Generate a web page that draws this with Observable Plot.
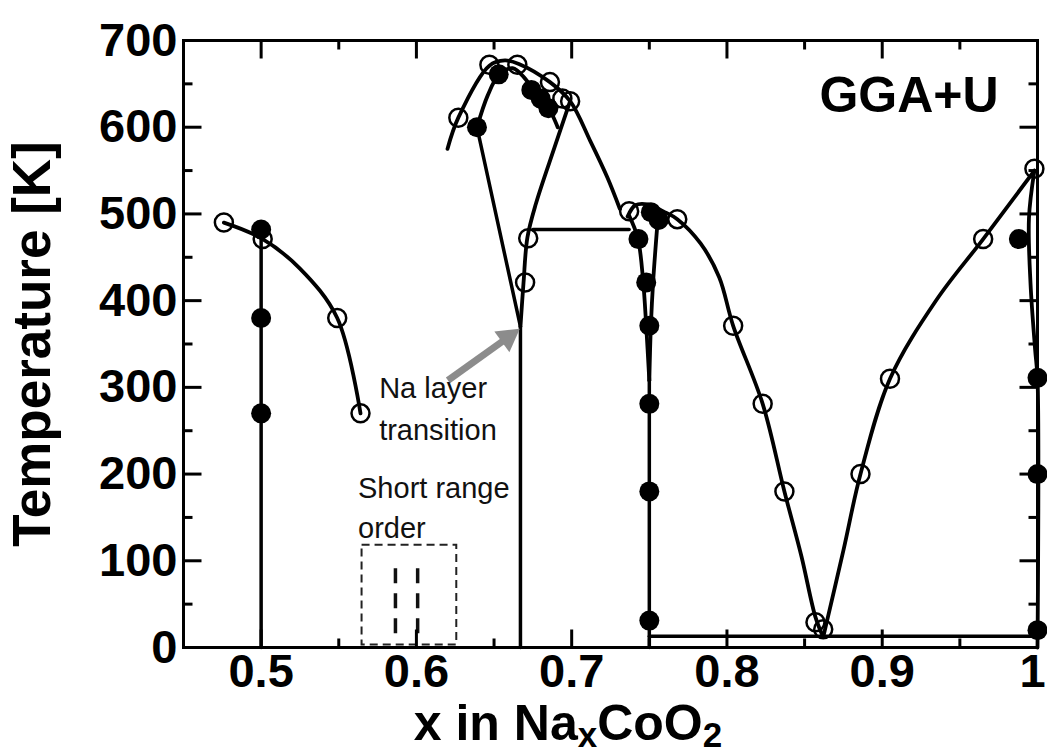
<!DOCTYPE html>
<html><head><meta charset="utf-8">
<script src="https://cdn.jsdelivr.net/npm/d3@7"></script>
<script src="https://cdn.jsdelivr.net/npm/@observablehq/plot@0.6"></script>
<style>body{margin:0;background:#fff}</style>
</head><body><div id="chart"></div>
<script>
// ---- tick values ----
const xMajorTicks = [0.5, 0.6, 0.7, 0.8, 0.9, 1.0];
const xMinorTicks = [0.55, 0.65, 0.75, 0.85, 0.95];
const yMajorTicks = [0, 100, 200, 300, 400, 500, 600, 700];
const yMinorTicks = [50, 150, 250, 350, 450, 550, 650];
const xLabelTicks = [0.5, 0.6, 0.7, 0.8, 0.9];
const xLastLabelTick = [1.0];

// ---- data points [x, T] ----
const openCircles = [
  [0.476, 490], [0.501, 471], [0.549, 380], [0.564, 270],
  [0.627, 611], [0.647, 672], [0.665, 672], [0.686, 652], [0.694, 633], [0.699, 630],
  [0.670, 421], [0.672, 472],
  [0.737, 503], [0.768, 494], [0.804, 371], [0.823, 281], [0.837, 180], [0.857, 29], [0.862, 21],
  [0.886, 200], [0.905, 310], [0.965, 471], [0.998, 552]
];
const filledCircles = [
  [0.500, 482], [0.500, 380], [0.500, 270],
  [0.639, 600], [0.653, 661], [0.674, 643], [0.680, 633], [0.685, 622],
  [0.751, 502], [0.756, 493], [0.743, 471], [0.748, 421], [0.750, 371],
  [0.750, 281], [0.750, 180], [0.750, 31],
  [0.988, 471], [1.000, 311], [1.000, 200], [1.000, 20]
];

// ---- phase boundaries [x, T] ----
const curveHalf   = [[0.476, 490], [0.500, 472], [0.525, 437], [0.549, 380], [0.564, 270]];
const stemHalf    = [[0.500, 481], [0.500, 0]];
const domeOuter   = [[0.620, 575], [0.627, 611], [0.647, 671], [0.657, 677], [0.666, 673], [0.686, 652], [0.699, 630], [0.712, 584], [0.723, 542], [0.731, 506]];
const domeInner   = [[0.639, 600], [0.646, 637], [0.653, 660], [0.662, 668], [0.670, 656], [0.676, 641], [0.682, 630], [0.687, 616], [0.691, 600]];
const vLeft       = [[0.639, 600], [0.667, 370]];
const vRight      = [[0.667, 370], [0.669, 421], [0.6715, 473], [0.677, 512], [0.689, 577], [0.699, 630]];
const stemTwoThird= [[0.667, 370], [0.667, 0]];
const tie482      = [[0.675, 482], [0.737, 482]];
const humpFall    = [[0.736, 497], [0.741, 510], [0.749, 511], [0.759, 503], [0.768, 494], [0.783, 466], [0.795, 427], [0.804, 371], [0.823, 281], [0.837, 180], [0.848, 105], [0.857, 35], [0.862, 12]];
const humpLeft    = [[0.737, 498], [0.7426, 472], [0.746, 423], [0.748, 371], [0.750, 308]];
const humpRight   = [[0.7555, 495], [0.7525, 423], [0.751, 371], [0.750, 308]];
const stemThreeQ  = [[0.750, 308], [0.750, 0]];
const tie13       = [[0.750, 13], [1.000, 13]];
const riseRight   = [[0.862, 12], [0.875, 112], [0.886, 200], [0.905, 310], [0.935, 401], [0.965, 471], [0.998, 550]];
const edgeOne     = [[0.998, 550], [0.9945, 495], [0.9955, 420], [0.9985, 343], [1.000, 310], [1.000, 0]];

const curvedLines = [curveHalf, domeOuter, domeInner, vRight, humpFall, humpLeft, humpRight, riseRight, edgeOne];
const straightLines = [stemHalf, vLeft, stemTwoThird, tie482, stemThreeQ, tie13];

// ---- annotations ----
const sroBox = [{x1: 0.565, x2: 0.626, T1: 3, T2: 118}];
const sroDashes = [{x: 0.5865, T1: 16, T2: 97}, {x: 0.6008, T1: 16, T2: 97}];
const naArrow = [{x1: 0.6203, T1: 308, x2: 0.6589, T2: 357.5}];
const notes = [
  {x: 0.576, T: 298, text: "Na layer"},
  {x: 0.576, T: 249.5, text: "transition"},
  {x: 0.5624, T: 182.6, text: "Short range"},
  {x: 0.5624, T: 136.5, text: "order"}
];
const panelLabel = [{x: 0.975, T: 636, text: "GGA+U"}];
const yTitle = ["Temperature [K]"];

// ---- layout ----
const W = 1047, H = 755, ML = 183, MR = 10, MT = 40, MB = 108;
const FW = W - ML - MR, FH = H - MT - MB;
const XD = [0.45, 1.0], YD = [0, 700];
const MAJOR = 18, MINOR = 9;
// tick lengths converted from pixels to data units
const tx = px => (XD[1] - XD[0]) * px / FW;
const ty = px => (YD[1] - YD[0]) * px / FH;

// inward tick segments on all four sides, built from the tick arrays
const tickSegments = [
  ...xMajorTicks.flatMap(v => [{x1: v, x2: v, y1: YD[0], y2: YD[0] + ty(MAJOR)}, {x1: v, x2: v, y1: YD[1], y2: YD[1] - ty(MAJOR)}]),
  ...xMinorTicks.flatMap(v => [{x1: v, x2: v, y1: YD[0], y2: YD[0] + ty(MINOR)}, {x1: v, x2: v, y1: YD[1], y2: YD[1] - ty(MINOR)}]),
  ...yMajorTicks.flatMap(v => [{x1: XD[0], x2: XD[0] + tx(MAJOR), y1: v, y2: v}, {x1: XD[1], x2: XD[1] - tx(MAJOR), y1: v, y2: v}]),
  ...yMinorTicks.flatMap(v => [{x1: XD[0], x2: XD[0] + tx(MINOR), y1: v, y2: v}, {x1: XD[1], x2: XD[1] - tx(MINOR), y1: v, y2: v}])
];

const FONT = "'Liberation Sans', Arial, Helvetica, sans-serif";
const X = d => d[0], Y = d => d[1];
const fmtX = d => d === 1 ? "1" : d.toFixed(1);

const marks = [
  Plot.frame({strokeWidth: 3}),
  // tick labels
  Plot.axisX(xLabelTicks, {anchor: "bottom", tickSize: 0, tickPadding: 6, tickFormat: fmtX, label: null, fontSize: 47, fontWeight: "bold"}),
  Plot.axisX(xLastLabelTick, {anchor: "bottom", tickSize: 0, tickPadding: 6, tickFormat: fmtX, label: null, fontSize: 47, fontWeight: "bold", dx: -5}),
  Plot.axisY(yMajorTicks, {anchor: "left", tickSize: 0, tickPadding: 6, label: null, fontSize: 47, fontWeight: "bold"}),
  // short-range-order box
  Plot.rect(sroBox, {x1: "x1", x2: "x2", y1: "T1", y2: "T2", fill: "none", stroke: "#222", strokeWidth: 2, strokeDasharray: "8,5"}),
  Plot.ruleX(sroDashes, {x: "x", y1: "T1", y2: "T2", stroke: "#111", strokeWidth: 3.5, strokeDasharray: "15,10"}),
  // phase lines
  ...curvedLines.map(L => Plot.line(L, {x: X, y: Y, curve: "catmull-rom", strokeWidth: 3.8, stroke: "black"})),
  ...straightLines.map(L => Plot.line(L, {x: X, y: Y, strokeWidth: 3.5, stroke: "black"})),
  // arrow
  Plot.link(naArrow, {x1: "x1", y1: "T1", x2: "x2", y2: "T2", stroke: "#8c8c8c", strokeWidth: 7}),
  Plot.dot(naArrow, {x: "x2", y: "T2", symbol: "triangle", r: 9.5, rotate: 54, fill: "#8c8c8c", stroke: "none"}),
  // points
  Plot.dot(openCircles, {x: X, y: Y, r: 9, fill: "none", stroke: "black", strokeWidth: 2.5}),
  Plot.dot(filledCircles, {x: X, y: Y, r: 10, fill: "black"}),
  // texts
  Plot.text(notes, {x: "x", y: "T", text: "text", textAnchor: "start", fontSize: 29, fill: "#111"}),
  Plot.text(panelLabel, {x: "x", y: "T", text: "text", textAnchor: "end", fontSize: 50, fontWeight: "bold"}),
  Plot.text(yTitle, {frameAnchor: "left", textAnchor: "middle", rotate: -90, dx: -150, fontSize: 53, fontWeight: "bold"}),
  // inward ticks (drawn last)
  Plot.link(tickSegments, {x1: "x1", x2: "x2", y1: "y1", y2: "y2", stroke: "black", strokeWidth: 3})
];

const chart = Plot.plot({
  width: W, height: H,
  marginLeft: ML, marginRight: MR, marginTop: MT, marginBottom: MB,
  x: {domain: XD},
  y: {domain: YD},
  style: {fontFamily: FONT, background: "white", color: "black"},
  marks
});
document.getElementById("chart").appendChild(chart);

// x-axis title with subscripts
const xt = d3.select(chart).append("text")
  .attr("x", 568).attr("y", 740)
  .attr("text-anchor", "middle")
  .attr("font-family", FONT).attr("font-weight", "bold").attr("font-size", 50).attr("fill", "black");
xt.append("tspan").text("x in Na");
xt.append("tspan").attr("font-size", 35).attr("dy", 7).text("x");
xt.append("tspan").attr("font-size", 50).attr("dy", -7).text("CoO");
xt.append("tspan").attr("font-size", 35).attr("dy", 7).text("2");
</script></body></html>
